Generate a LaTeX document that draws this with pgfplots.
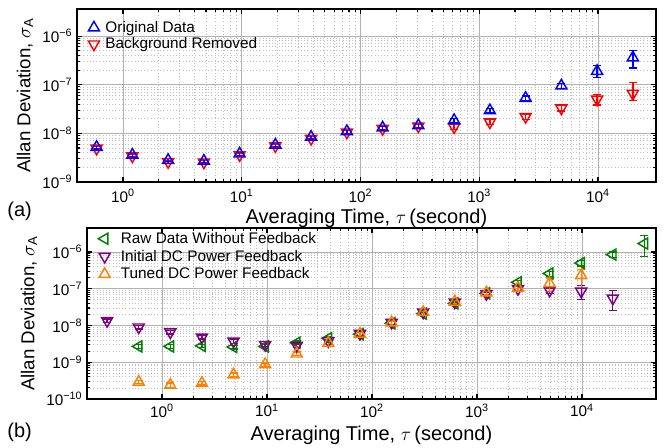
\documentclass[border=0pt]{standalone}
\usepackage{pgfplots}
\pgfplotsset{compat=1.18}
\usepackage{pgfplotstable}
\usepackage{fontspec}
\setmainfont{Liberation Sans}
\definecolor{cblue}{RGB}{0,0,255}
\definecolor{cred}{RGB}{255,0,0}
\definecolor{cgreen}{RGB}{0,128,0}
\definecolor{cpurple}{RGB}{128,0,128}
\definecolor{corange}{RGB}{255,128,0}

% top panel
\pgfplotstableread{
x y ep em
0.6 5.2e-9 0.4e-9 0.4e-9
1.2 3.6e-9 0.3e-9 0.3e-9
2.4 2.8e-9 0.2e-9 0.2e-9
4.8 2.7e-9 0.2e-9 0.2e-9
9.6 3.8e-9 0.3e-9 0.3e-9
19.2 5.8e-9 0.5e-9 0.5e-9
38.4 8.4e-9 0.7e-9 0.7e-9
76.8 1.1e-8 0.1e-8 0.1e-8
153.6 1.3e-8 0.12e-8 0.12e-8
307.2 1.45e-8 0.15e-8 0.15e-8
614.4 1.85e-8 0.2e-8 0.2e-8
1228.8 2.95e-8 0.3e-8 0.3e-8
2457.6 5.3e-8 0.6e-8 0.6e-8
4915.2 9.5e-8 1.2e-8 1.2e-8
9830.4 1.9e-7 0.6e-7 0.5e-7
19660.8 3.6e-7 1.4e-7 1.4e-7
}\origdata
\pgfplotstableread{
x y ep em
0.6 4.9e-9 0.4e-9 0.4e-9
1.2 3.4e-9 0.3e-9 0.3e-9
2.4 2.6e-9 0.2e-9 0.2e-9
4.8 2.55e-9 0.2e-9 0.2e-9
9.6 3.6e-9 0.3e-9 0.3e-9
19.2 5.5e-9 0.5e-9 0.5e-9
38.4 7.8e-9 0.7e-9 0.7e-9
76.8 1.05e-8 0.1e-8 0.1e-8
153.6 1.25e-8 0.12e-8 0.12e-8
307.2 1.4e-8 0.15e-8 0.15e-8
614.4 1.35e-8 0.15e-8 0.15e-8
1228.8 1.7e-8 0.2e-8 0.2e-8
2457.6 2.2e-8 0.3e-8 0.3e-8
4915.2 3.3e-8 0.4e-8 0.4e-8
9830.4 5.0e-8 1.2e-8 1.2e-8
19660.8 6.6e-8 4.4e-8 1.9e-8
}\bgdata
% bottom panel
\pgfplotstableread{
x y ep em
0.6 2.7e-9 0.3e-9 0.3e-9
1.2 2.7e-9 0.3e-9 0.3e-9
2.4 2.8e-9 0.3e-9 0.3e-9
4.8 2.6e-9 0.3e-9 0.3e-9
9.6 2.7e-9 0.3e-9 0.3e-9
19.2 3.4e-9 0.4e-9 0.4e-9
38.4 4.5e-9 0.5e-9 0.5e-9
76.8 5.8e-9 0.6e-9 0.6e-9
153.6 1.15e-8 0.12e-8 0.12e-8
307.2 2.1e-8 0.2e-8 0.2e-8
614.4 4.0e-8 0.4e-8 0.4e-8
1228.8 7.5e-8 0.8e-8 0.8e-8
2457.6 1.5e-7 0.2e-7 0.2e-7
4915.2 2.6e-7 0.4e-7 0.4e-7
9830.4 5.0e-7 0.8e-7 0.8e-7
19660.8 8.5e-7 1.5e-7 1.5e-7
39321.6 1.7e-6 1.1e-6 0.95e-6
}\rawdata
\pgfplotstableread{
x y ep em
0.3 1.35e-8 0.15e-8 0.15e-8
0.6 9.0e-9 1.0e-9 1.0e-9
1.2 6.6e-9 0.7e-9 0.7e-9
2.4 4.8e-9 0.5e-9 0.5e-9
4.8 3.7e-9 0.4e-9 0.4e-9
9.6 3.0e-9 0.3e-9 0.3e-9
19.2 2.85e-9 0.3e-9 0.3e-9
38.4 3.8e-9 0.4e-9 0.4e-9
76.8 6.0e-9 0.6e-9 0.6e-9
153.6 1.2e-8 0.12e-8 0.12e-8
307.2 2.3e-8 0.2e-8 0.2e-8
614.4 4.3e-8 0.4e-8 0.4e-8
1228.8 7.3e-8 0.8e-8 0.8e-8
2457.6 1.0e-7 0.15e-7 0.15e-7
4915.2 9.0e-8 1.5e-8 1.5e-8
9830.4 8.5e-8 4.0e-8 3.5e-8
19660.8 5.5e-8 3.6e-8 2.9e-8
}\initdata
\pgfplotstableread{
x y ep em
0.6 2.9e-10 0.3e-10 0.3e-10
1.2 2.4e-10 0.3e-10 0.4e-10
2.4 2.7e-10 0.3e-10 0.3e-10
4.8 4.6e-10 0.5e-10 0.5e-10
9.6 8.7e-10 0.9e-10 0.9e-10
19.2 1.7e-9 0.2e-9 0.2e-9
38.4 3.3e-9 0.3e-9 0.3e-9
76.8 5.9e-9 0.6e-9 0.6e-9
153.6 1.2e-8 0.12e-8 0.12e-8
307.2 2.3e-8 0.2e-8 0.2e-8
614.4 4.4e-8 0.4e-8 0.4e-8
1228.8 7.8e-8 0.8e-8 0.8e-8
2457.6 1.05e-7 0.15e-7 0.15e-7
4915.2 1.4e-7 0.55e-7 0.55e-7
9830.4 2.3e-7 1.0e-7 1.3e-7
}\tuneddata

\pgfplotsset{
  every axis/.append style={
    scale only axis,
    grid=both,
    major grid style={gray!60, line width=0.7pt},
    minor grid style={gray!50, dotted, line width=0.6pt},
    axis line style={line width=1.1pt},
    tick style={black, line width=0.8pt},
    major tick length=4pt, minor tick length=2pt,
    tick align=inside,
    tick label style={font=\fontsize{11.5}{12}\selectfont},
    xlabel style={font=\fontsize{15}{16}\selectfont},
    ylabel style={font=\fontsize{14}{15}\selectfont},
    legend cell align=left,
  },
  every axis plot/.append style={only marks, mark=triangle, mark size=4.8pt, line width=1.1pt},
}

\begin{document}
\begin{tikzpicture}
\useasboundingbox (0,0) rectangle (498pt,335.25pt);

\begin{axis}[
  xmode=log, ymode=log,
  at={(57.75pt,328.5pt)}, anchor=north west,
  width=434.25pt, height=129.75pt,
  xmin=0.41, xmax=3.08e4, ymin=1e-9, ymax=3.6e-6,
  xtick={1,10,100,1000,10000},
  xticklabels={10\textsuperscript{0},10\textsuperscript{1},10\textsuperscript{2},10\textsuperscript{3},10\textsuperscript{4}},
  xticklabel style={yshift=-2pt},
  ytick={1e-9,1e-8,1e-7,1e-6},
  yticklabels={10\textsuperscript{−9},10\textsuperscript{−8},10\textsuperscript{−7},10\textsuperscript{−6}},
  xlabel={Averaging Time, $\tau$\,(second)},
  xlabel style={yshift=2pt},
  ylabel={Allan Deviation, $\sigma_{\mathrm{A}}$},
  legend style={draw=none, fill=none, font=\fontsize{11.5}{13}\selectfont,
      at={(0.01,0.985)}, anchor=north west, xshift=1pt, yshift=-3pt, row sep=-1.5pt, column sep=2.5pt},
]
\addlegendimage{only marks, mark=triangle, mark size=4.8pt, line width=1.1pt, color=cblue}
\addlegendentry{Original Data}
\addlegendimage{only marks, mark=triangle, mark size=4.8pt, line width=1.1pt, color=cred, mark options={rotate=180}}
\addlegendentry{Background Removed}
\addplot[color=cred, mark options={rotate=180},
  error bars/.cd, y dir=both, y explicit, error bar style={line width=1pt}, error mark options={line width=1pt, mark size=3pt, rotate=90}]
  table[x=x, y=y, y error plus=ep, y error minus=em]{\bgdata};
\addplot[color=cblue,
  error bars/.cd, y dir=both, y explicit, error bar style={line width=1pt}, error mark options={line width=1pt, mark size=3pt, rotate=90}]
  table[x=x, y=y, y error plus=ep, y error minus=em]{\origdata};
\end{axis}

\begin{axis}[
  xmode=log, ymode=log,
  at={(65.25pt,164.25pt)}, anchor=north west,
  width=426.75pt, height=128.25pt,
  xmin=0.193, xmax=5.07e4, ymin=1e-10, ymax=4.5e-6,
  xtick={1,10,100,1000,10000},
  xticklabels={10\textsuperscript{0},10\textsuperscript{1},10\textsuperscript{2},10\textsuperscript{3},10\textsuperscript{4}},
  ytick={1e-10,1e-9,1e-8,1e-7,1e-6},
  yticklabels={10\textsuperscript{−10},10\textsuperscript{−9},10\textsuperscript{−8},10\textsuperscript{−7},10\textsuperscript{−6}},
  xlabel={Averaging Time, $\tau$\,(second)},
  ylabel={Allan Deviation, $\sigma_{\mathrm{A}}$},
  legend style={draw=none, fill=none, font=\fontsize{11.5}{13}\selectfont,
      at={(0.01,0.985)}, anchor=north west, xshift=1pt, yshift=3pt, row sep=-0.5pt, column sep=6pt},
]
\addplot[color=cgreen, mark options={rotate=90},
  error bars/.cd, y dir=both, y explicit, error bar style={line width=1pt}, error mark options={line width=1pt, mark size=3pt, rotate=90}]
  table[x=x, y=y, y error plus=ep, y error minus=em]{\rawdata};
\addlegendentry{Raw Data Without Feedback}
\addplot[color=cpurple, mark options={rotate=180},
  error bars/.cd, y dir=both, y explicit, error bar style={line width=1pt}, error mark options={line width=1pt, mark size=3pt, rotate=90}]
  table[x=x, y=y, y error plus=ep, y error minus=em]{\initdata};
\addlegendentry{Initial DC Power Feedback}
\addplot[color=corange,
  error bars/.cd, y dir=both, y explicit, error bar style={line width=1pt}, error mark options={line width=1pt, mark size=3pt, rotate=90}]
  table[x=x, y=y, y error plus=ep, y error minus=em]{\tuneddata};
\addlegendentry{Tuned DC Power Feedback}
\end{axis}

\node[anchor=west, font=\fontsize{15}{16}\selectfont] at (2pt,177pt) {(a)};
\node[anchor=west, font=\fontsize{15}{16}\selectfont] at (2pt,11.25pt) {(b)};
\end{tikzpicture}
\end{document}
